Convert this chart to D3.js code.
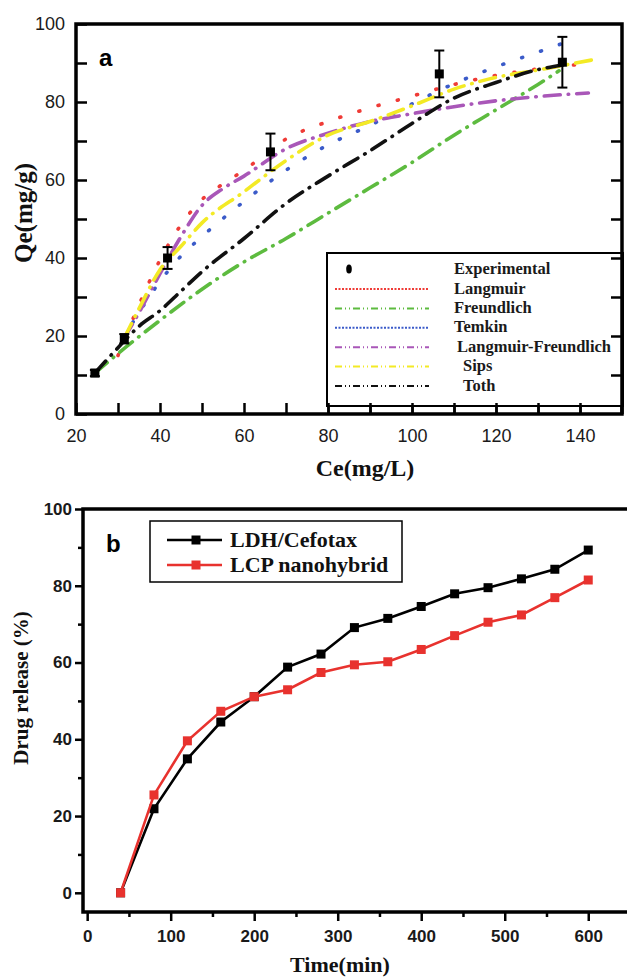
<!DOCTYPE html>
<html><head><meta charset="utf-8">
<script src="https://cdn.jsdelivr.net/npm/d3@7/dist/d3.min.js"></script>
<style>
html,body{margin:0;padding:0;background:#fff;}
svg{display:block;}
</style>
</head><body>
<svg id="c" width="627" height="977"></svg>
<script>
// ---------- Panel a data ----------
const expCe = [24.5, 31.5, 41.8, 66.3, 106.5, 135.8];
const expQe = [10.5, 19.3, 40.0, 67.2, 87.2, 90.2];
const expErr = [0.8, 1.2, 2.8, 4.7, 6.0, 6.5];

const langmuir = [[30,15],[35,28],[40,39.5],[45,48.5],[50,55],[55,59],[60,62.5],[70,70.5],[80,75],[90,78.5],[100,81.5],[110,84.5],[120,86.8],[130,88.5],[140.5,89.7]];
const freundlich = [[24.5,10.5],[30,15.5],[40,24],[50,32],[60,39],[70,45],[80,51.5],[90,58],[100,64.5],[110,71.5],[120,78],[130,84.5],[135,88]];
const temkin = [[31,19],[35,26],[40,34],[45,40.5],[50,45.5],[60,54.5],[70,62.5],[80,69],[90,74],[100,79.5],[110,84.7],[120,89],[130,92.8],[139,96.2]];
const langFreund = [[31.5,19.5],[35,26],[40,36],[45,45.5],[50,53.5],[55,57.8],[60,61],[70,68],[80,72],[90,75],[100,77],[110,78.8],[120,80.3],[130,81.4],[142,82.3]];
const sips = [[31.5,19.5],[35,27],[40,37],[45,43],[50,49],[60,57],[70,65],[80,71.5],[90,75],[100,79],[110,83.3],[120,86.3],[130,88.2],[144,91]];
const toth = [[24.5,10.5],[30,17],[35,22.5],[40,26.5],[45,31.5],[50,36.5],[60,45],[70,54],[80,61],[90,67.5],[100,74.5],[110,81],[120,85],[130,88.3],[136,89.5]];

const modelNames = ["Langmuir","Freundlich","Temkin","Langmuir-Freundlich","Sips","Toth"];
const modelData = [langmuir, freundlich, temkin, langFreund, sips, toth];
const modelColors = ["#ef3b36","#5dbb3f","#3b5bc9","#a957b8","#f3ea25","#111111"];
const modelDash = ["1 19","16 8 0.5 8","1 19","16 8 0.5 8","16 8 0.5 8","16 8 0.5 8"];
const legendDash = ["2 1.5","7 3 1 3 1 3","2 1.5","7 3 1 3 1 3","7 3 1 3 1 3","7 3 1 3 1 3"];

const aXTicks = [20,40,60,80,100,120,140];
const aXMinor = [30,50,70,90,110,130,150];
const aYTicks = [0,20,40,60,80,100];
const aYMinor = [10,30,50,70,90];
const aYRight = [10,20,30,40,50,60,70,80,90];

// ---------- Panel b data ----------
const timeMin = [40,80,120,160,200,240,280,320,360,400,440,480,520,560,600];
const ldh = [0,21.9,34.9,44.5,51.1,58.8,62.2,69.1,71.5,74.6,77.9,79.5,81.8,84.3,89.3];
const lcp = [0,25.5,39.6,47.3,51.1,52.9,57.4,59.4,60.2,63.4,67.0,70.5,72.4,76.9,81.5];
const bSeriesNames = ["LDH/Cefotax","LCP nanohybrid"];
const bSeriesColors = ["#000000","#e8322e"];
const bXTicks = [0,100,200,300,400,500,600];
const bXMinor = [50,150,250,350,450,550];
const bYTicks = [0,20,40,60,80,100];
const bYMinor = [10,30,50,70,90];

const svg = d3.select("#c");
const serif = "'Liberation Serif','Times New Roman',serif";
const sans = "'Liberation Sans',Arial,sans-serif";

// ================= PANEL A =================
const ax = d3.scaleLinear().domain([20,150]).range([76,622]);
const ay = d3.scaleLinear().domain([0,100]).range([414,24]);
const gA = svg.append("g");

function styleAxis(g, fs, fw){
  g.select(".domain").remove();
  g.selectAll(".tick line").attr("stroke","#000").attr("stroke-width",2.5);
  g.selectAll(".tick text").attr("font-family",sans).attr("font-size",fs).attr("font-weight",fw).attr("fill","#1a1a1a");
}

// left
gA.append("g").attr("transform","translate(76,0)")
  .call(d3.axisLeft(ay).tickValues(aYTicks).tickSizeInner(-11).tickSizeOuter(0).tickPadding(11))
  .call(g=>styleAxis(g,18,"normal"));
gA.append("g").attr("transform","translate(76,0)")
  .call(d3.axisLeft(ay).tickValues(aYMinor).tickSizeInner(-11).tickSizeOuter(0).tickFormat(""))
  .call(g=>styleAxis(g,18,"normal"));
// right
gA.append("g").attr("transform","translate(622,0)")
  .call(d3.axisRight(ay).tickValues(aYRight).tickSizeInner(-11).tickSizeOuter(0).tickFormat(""))
  .call(g=>styleAxis(g,18,"normal"));
// bottom
gA.append("g").attr("transform","translate(0,414)")
  .call(d3.axisBottom(ax).tickValues(aXTicks).tickSizeInner(-11).tickSizeOuter(0).tickPadding(15))
  .call(g=>styleAxis(g,18,"normal"));
gA.append("g").attr("transform","translate(0,414)")
  .call(d3.axisBottom(ax).tickValues(aXMinor.filter(v=>v<150)).tickSizeInner(-11).tickSizeOuter(0).tickFormat(""))
  .call(g=>styleAxis(g,18,"normal"));

// frame
gA.append("rect").attr("x",ax(20)).attr("y",ay(100)).attr("width",ax(150)-ax(20)).attr("height",ay(0)-ay(100))
  .attr("fill","none").attr("stroke","#000").attr("stroke-width",3.5);

// model curves
const lineA = d3.line().x(d=>ax(d[0])).y(d=>ay(d[1])).curve(d3.curveMonotoneX);
modelData.forEach((dat,i)=>{
  gA.append("path").attr("d",lineA(dat)).attr("fill","none")
    .attr("stroke",modelColors[i]).attr("stroke-width",3.6)
    .attr("stroke-linecap","round").attr("stroke-dasharray",modelDash[i]);
});

// experimental with error bars
expCe.forEach((c,i)=>{
  const x = ax(c), y0 = ay(expQe[i]-expErr[i]), y1 = ay(expQe[i]+expErr[i]);
  gA.append("line").attr("x1",x).attr("x2",x).attr("y1",y0).attr("y2",y1).attr("stroke","#000").attr("stroke-width",2);
  [y0,y1].forEach(yy=>gA.append("line").attr("x1",x-5).attr("x2",x+5).attr("y1",yy).attr("y2",yy).attr("stroke","#000").attr("stroke-width",2));
  gA.append("rect").attr("x",x-4.5).attr("y",ay(expQe[i])-4.5).attr("width",9).attr("height",9).attr("fill","#000");
});

// panel label
gA.append("text").attr("x",99).attr("y",66).text("a")
  .attr("font-family",sans).attr("font-weight","bold").attr("font-size",24).attr("fill","#000");

// axis titles
gA.append("text").attr("x",365).attr("y",476).attr("text-anchor","middle").text("Ce(mg/L)")
  .attr("font-family",serif).attr("font-weight","bold").attr("font-size",24).attr("fill","#111");
gA.append("text").attr("transform","translate(32,213) rotate(-90)").attr("text-anchor","middle").text("Qe(mg/g)")
  .attr("font-family",serif).attr("font-weight","bold").attr("font-size",25).attr("fill","#111");

// legend a
const legA = gA.append("g");
legA.append("rect").attr("x",327).attr("y",253).attr("width",296).attr("height",153)
  .attr("fill","#fff").attr("stroke","#000").attr("stroke-width",2);
// re-draw right frame over legend
legA.append("line").attr("x1",622).attr("x2",622).attr("y1",253).attr("y2",414).attr("stroke","#000").attr("stroke-width",3.5);
gA.append("g").attr("transform","translate(622,0)")
  .call(d3.axisRight(ay).tickValues(aYRight.filter(v=>v<=40)).tickSizeInner(-11).tickSizeOuter(0).tickFormat(""))
  .call(g=>styleAxis(g,18,"normal"));
gA.append("g").attr("transform","translate(0,414)")
  .call(d3.axisBottom(ax).tickValues(aXTicks.concat(aXMinor).filter(v=>v>=80 && v<150)).tickSizeInner(-11).tickSizeOuter(0).tickFormat(""))
  .call(g=>styleAxis(g,18,"normal"));

legA.append("ellipse").attr("cx",349).attr("cy",269).attr("rx",2.8).attr("ry",4.5).attr("fill","#000");
legA.append("text").attr("x",454).attr("y",274).text("Experimental")
  .attr("font-family",serif).attr("font-weight","bold").attr("font-size",16.5).attr("fill","#1a1a1a");
const legTextX = [454,454,454,457,463,463];
modelNames.forEach((n,i)=>{
  const ly = 289 + i*19.4;
  legA.append("line").attr("x1",335).attr("x2",429).attr("y1",ly).attr("y2",ly)
    .attr("stroke",modelColors[i]).attr("stroke-width",2).attr("stroke-dasharray",legendDash[i]);
  legA.append("text").attr("x",legTextX[i]).attr("y",ly+4.5).text(n)
    .attr("font-family",serif).attr("font-weight","bold").attr("font-size",16.5).attr("fill","#1a1a1a");
});

// ================= PANEL B =================
const bx = d3.scaleLinear().domain([-5,650]).range([83,630]);
const by = d3.scaleLinear().domain([-5,100]).range([912,509]);
const gB = svg.append("g");

gB.append("g").attr("transform","translate(83,0)")
  .call(d3.axisLeft(by).tickValues(bYTicks).tickSizeInner(8).tickSizeOuter(0).tickPadding(3))
  .call(g=>styleAxis(g,17,"bold"));
gB.append("g").attr("transform","translate(83,0)")
  .call(d3.axisLeft(by).tickValues(bYMinor).tickSizeInner(5).tickSizeOuter(0).tickFormat(""))
  .call(g=>styleAxis(g,17,"bold"));
gB.append("g").attr("transform","translate(0,912)")
  .call(d3.axisBottom(bx).tickValues(bXTicks).tickSizeInner(9).tickSizeOuter(0).tickPadding(9))
  .call(g=>styleAxis(g,17,"bold"));
gB.append("g").attr("transform","translate(0,912)")
  .call(d3.axisBottom(bx).tickValues(bXMinor).tickSizeInner(5).tickSizeOuter(0).tickFormat(""))
  .call(g=>styleAxis(g,17,"bold"));

// frame
gB.append("path").attr("d",`M${bx(650)},${by(100)}H${bx(-5)}V${by(-5)}H${bx(650)}`)
  .attr("fill","none").attr("stroke","#000").attr("stroke-width",3.5);

const lineB = d3.line().x(d=>bx(d[0])).y(d=>by(d[1]));
[ldh, lcp].forEach((vals,si)=>{
  const pts = timeMin.map((t,i)=>[t,vals[i]]);
  gB.append("path").attr("d",lineB(pts)).attr("fill","none").attr("stroke",bSeriesColors[si]).attr("stroke-width",2.6);
  gB.selectAll(null).data(pts).enter().append("rect")
    .attr("x",d=>bx(d[0])-4.5).attr("y",d=>by(d[1])-4.5).attr("width",9).attr("height",9)
    .attr("fill",bSeriesColors[si]);
});

gB.append("text").attr("x",106).attr("y",552).text("b")
  .attr("font-family",sans).attr("font-weight","bold").attr("font-size",24).attr("fill","#000");

// legend b
gB.append("rect").attr("x",150).attr("y",521).attr("width",252).attr("height",61)
  .attr("fill","#fff").attr("stroke","#000").attr("stroke-width",1.5);
bSeriesNames.forEach((n,i)=>{
  const ly = 540 + i*25;
  gB.append("line").attr("x1",167).attr("x2",222).attr("y1",ly).attr("y2",ly).attr("stroke",bSeriesColors[i]).attr("stroke-width",2.6);
  gB.append("rect").attr("x",191.5).attr("y",ly-4.5).attr("width",9).attr("height",9).attr("fill",bSeriesColors[i]);
  gB.append("text").attr("x",230).attr("y",ly+7).text(n)
    .attr("font-family",serif).attr("font-weight","bold").attr("font-size",22).attr("fill","#111");
});

gB.append("text").attr("x",340).attr("y",972).attr("text-anchor","middle").text("Time(min)")
  .attr("font-family",serif).attr("font-weight","bold").attr("font-size",22).attr("fill","#111");
gB.append("text").attr("transform","translate(28,688) rotate(-90)").attr("text-anchor","middle").text("Drug release (%)")
  .attr("font-family",serif).attr("font-weight","bold").attr("font-size",21).attr("fill","#111");
</script>
</body></html>
